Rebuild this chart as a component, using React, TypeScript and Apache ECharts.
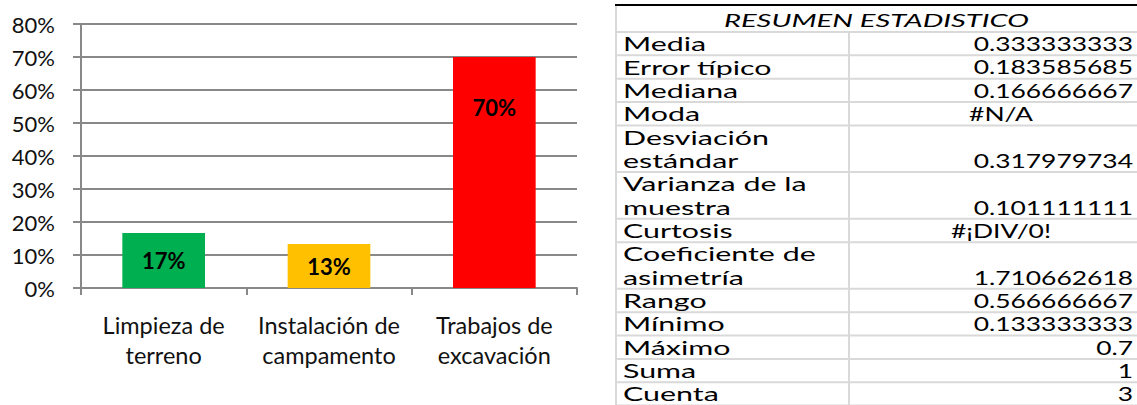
import React, { useEffect, useRef } from "react";
import * as echarts from "echarts";

const categories = ["Limpieza de\nterreno", "Instalación de\ncampamento", "Trabajos de\nexcavación"];
const shares = [0.1667, 0.1333, 0.7];
const barColors = ["#00B050", "#FFC000", "#FF0000"];

const statTitle = "RESUMEN ESTADISTICO";
const statLabels = [
  "Media",
  "Error típico",
  "Mediana",
  "Moda",
  "Desviación\nestándar",
  "Varianza de la\nmuestra",
  "Curtosis",
  "Coeficiente de\nasimetría",
  "Rango",
  "Mínimo",
  "Máximo",
  "Suma",
  "Cuenta",
];
const statValues = [
  "0.333333333",
  "0.183585685",
  "0.166666667",
  "#N/A",
  "0.317979734",
  "0.101111111",
  "#¡DIV/0!",
  "1.710662618",
  "0.566666667",
  "0.133333333",
  "0.7",
  "1",
  "3",
];

const FONT = "Lato, 'Open Sans', sans-serif";
const T_LEFT = 616;
const T_COL = 849;
const T_RIGHT = 1137;
const T_TOP = 5;
const HEAD_BOTTOM = 32;
const LINE_H = 23.35;
const TXT_SIZE = 19;
const LABEL_SCALE = 1.6;
const VALUE_SCALE = 1.39;
const HEAD_SCALE = 1.62;

function buildTable(): any[] {
  const els: any[] = [];
  const gray = "#d9d9d9";
  els.push({
    type: "text",
    x: (T_LEFT + T_RIGHT) / 2,
    y: (T_TOP + HEAD_BOTTOM) / 2 + 1,
    scaleX: HEAD_SCALE,
    style: {
      text: statTitle,
      font: `italic 18px ${FONT}`,
      fill: "#000",
      textAlign: "center",
      textVerticalAlign: "middle",
      align: "center",
      verticalAlign: "middle",
    },
  });
  let y = HEAD_BOTTOM;
  const boundaries: number[] = [HEAD_BOTTOM];
  statLabels.forEach((lab, i) => {
    const lines = lab.split("\n");
    lines.forEach((ln, k) => {
      els.push({
        type: "text",
        x: T_LEFT + 7,
        y: y + LINE_H * k + LINE_H / 2,
        scaleX: LABEL_SCALE,
        style: {
          text: ln,
          font: `${TXT_SIZE}px ${FONT}`,
          fill: "#000",
          textAlign: "left",
          textVerticalAlign: "middle",
          align: "left",
          verticalAlign: "middle",
        },
      });
    });
    const v = statValues[i];
    const isErr = v.startsWith("#");
    els.push({
      type: "text",
      x: isErr ? 1001 : T_RIGHT - 4,
      y: y + LINE_H * (lines.length - 1) + LINE_H / 2,
      scaleX: VALUE_SCALE,
      style: {
        text: v,
        font: `${TXT_SIZE}px ${FONT}`,
        fill: "#000",
        textAlign: isErr ? "center" : "right",
        textVerticalAlign: "middle",
        align: isErr ? "center" : "right",
        verticalAlign: "middle",
      },
    });
    y += LINE_H * lines.length;
    boundaries.push(y);
  });
  boundaries.forEach((b) => {
    els.push({
      type: "line",
      shape: { x1: T_LEFT, y1: b, x2: T_RIGHT, y2: b },
      style: { stroke: gray, lineWidth: 2 },
      z: 1,
    });
  });
  els.push({
    type: "line",
    shape: { x1: T_LEFT, y1: T_TOP, x2: T_LEFT, y2: 405 },
    style: { stroke: gray, lineWidth: 2 },
  });
  els.push({
    type: "line",
    shape: { x1: T_COL, y1: HEAD_BOTTOM, x2: T_COL, y2: 405 },
    style: { stroke: gray, lineWidth: 2 },
  });
  els.push({
    type: "line",
    shape: { x1: T_LEFT - 1, y1: T_TOP, x2: T_RIGHT, y2: T_TOP },
    style: { stroke: "#000", lineWidth: 2 },
    z: 5,
  });
  return els;
}

export default function App() {
  const ref = useRef<HTMLDivElement>(null);
  useEffect(() => {
    if (!ref.current) return;
    const chart = echarts.init(ref.current, undefined, { renderer: "svg" });
    const axisGray = "#888888";
    chart.setOption({
      animation: false,
      backgroundColor: "#ffffff",
      grid: { left: 81, right: 560, top: 24, bottom: 117, containLabel: false },
      xAxis: {
        type: "category",
        data: categories,
        boundaryGap: true,
        axisLine: { show: true, lineStyle: { color: axisGray, width: 2 } },
        axisTick: { show: true, length: 7, alignWithLabel: false, lineStyle: { color: axisGray, width: 2 } },
        axisLabel: {
          margin: 22,
          fontFamily: FONT,
          fontSize: 23.5,
          lineHeight: 30,
          color: "#111",
          interval: 0,
        },
      },
      yAxis: {
        type: "value",
        min: 0,
        max: 0.8,
        interval: 0.1,
        axisLine: { show: true, lineStyle: { color: axisGray, width: 2 } },
        axisTick: { show: true, length: 8, lineStyle: { color: axisGray, width: 2 } },
        splitLine: { show: true, lineStyle: { color: axisGray, width: 2 } },
        axisLabel: {
          margin: 26,
          fontFamily: FONT,
          fontSize: 22,
          color: "#111",
          formatter: (v: number) => `${Math.round(v * 100)}%`,
        },
      },
      series: [
        {
          type: "bar",
          barWidth: "50%",
          data: shares.map((v, i) => ({
            value: v,
            itemStyle: { color: barColors[i] },
            label: i === 2 ? { position: "insideTop", distance: 39 } : { position: "inside" },
          })),
          label: {
            show: true,
            fontFamily: FONT,
            fontSize: 22,
            fontWeight: "bold",
            color: "#000",
            formatter: (p: any) => `${Math.round(p.value * 100)}%`,
          },
        },
      ],
      graphic: buildTable(),
    });
    return () => chart.dispose();
  }, []);
  return (
    <div
      ref={ref}
      style={{ position: "fixed", left: 0, top: 0, width: 1137, height: 405, background: "#fff" }}
    />
  );
}
